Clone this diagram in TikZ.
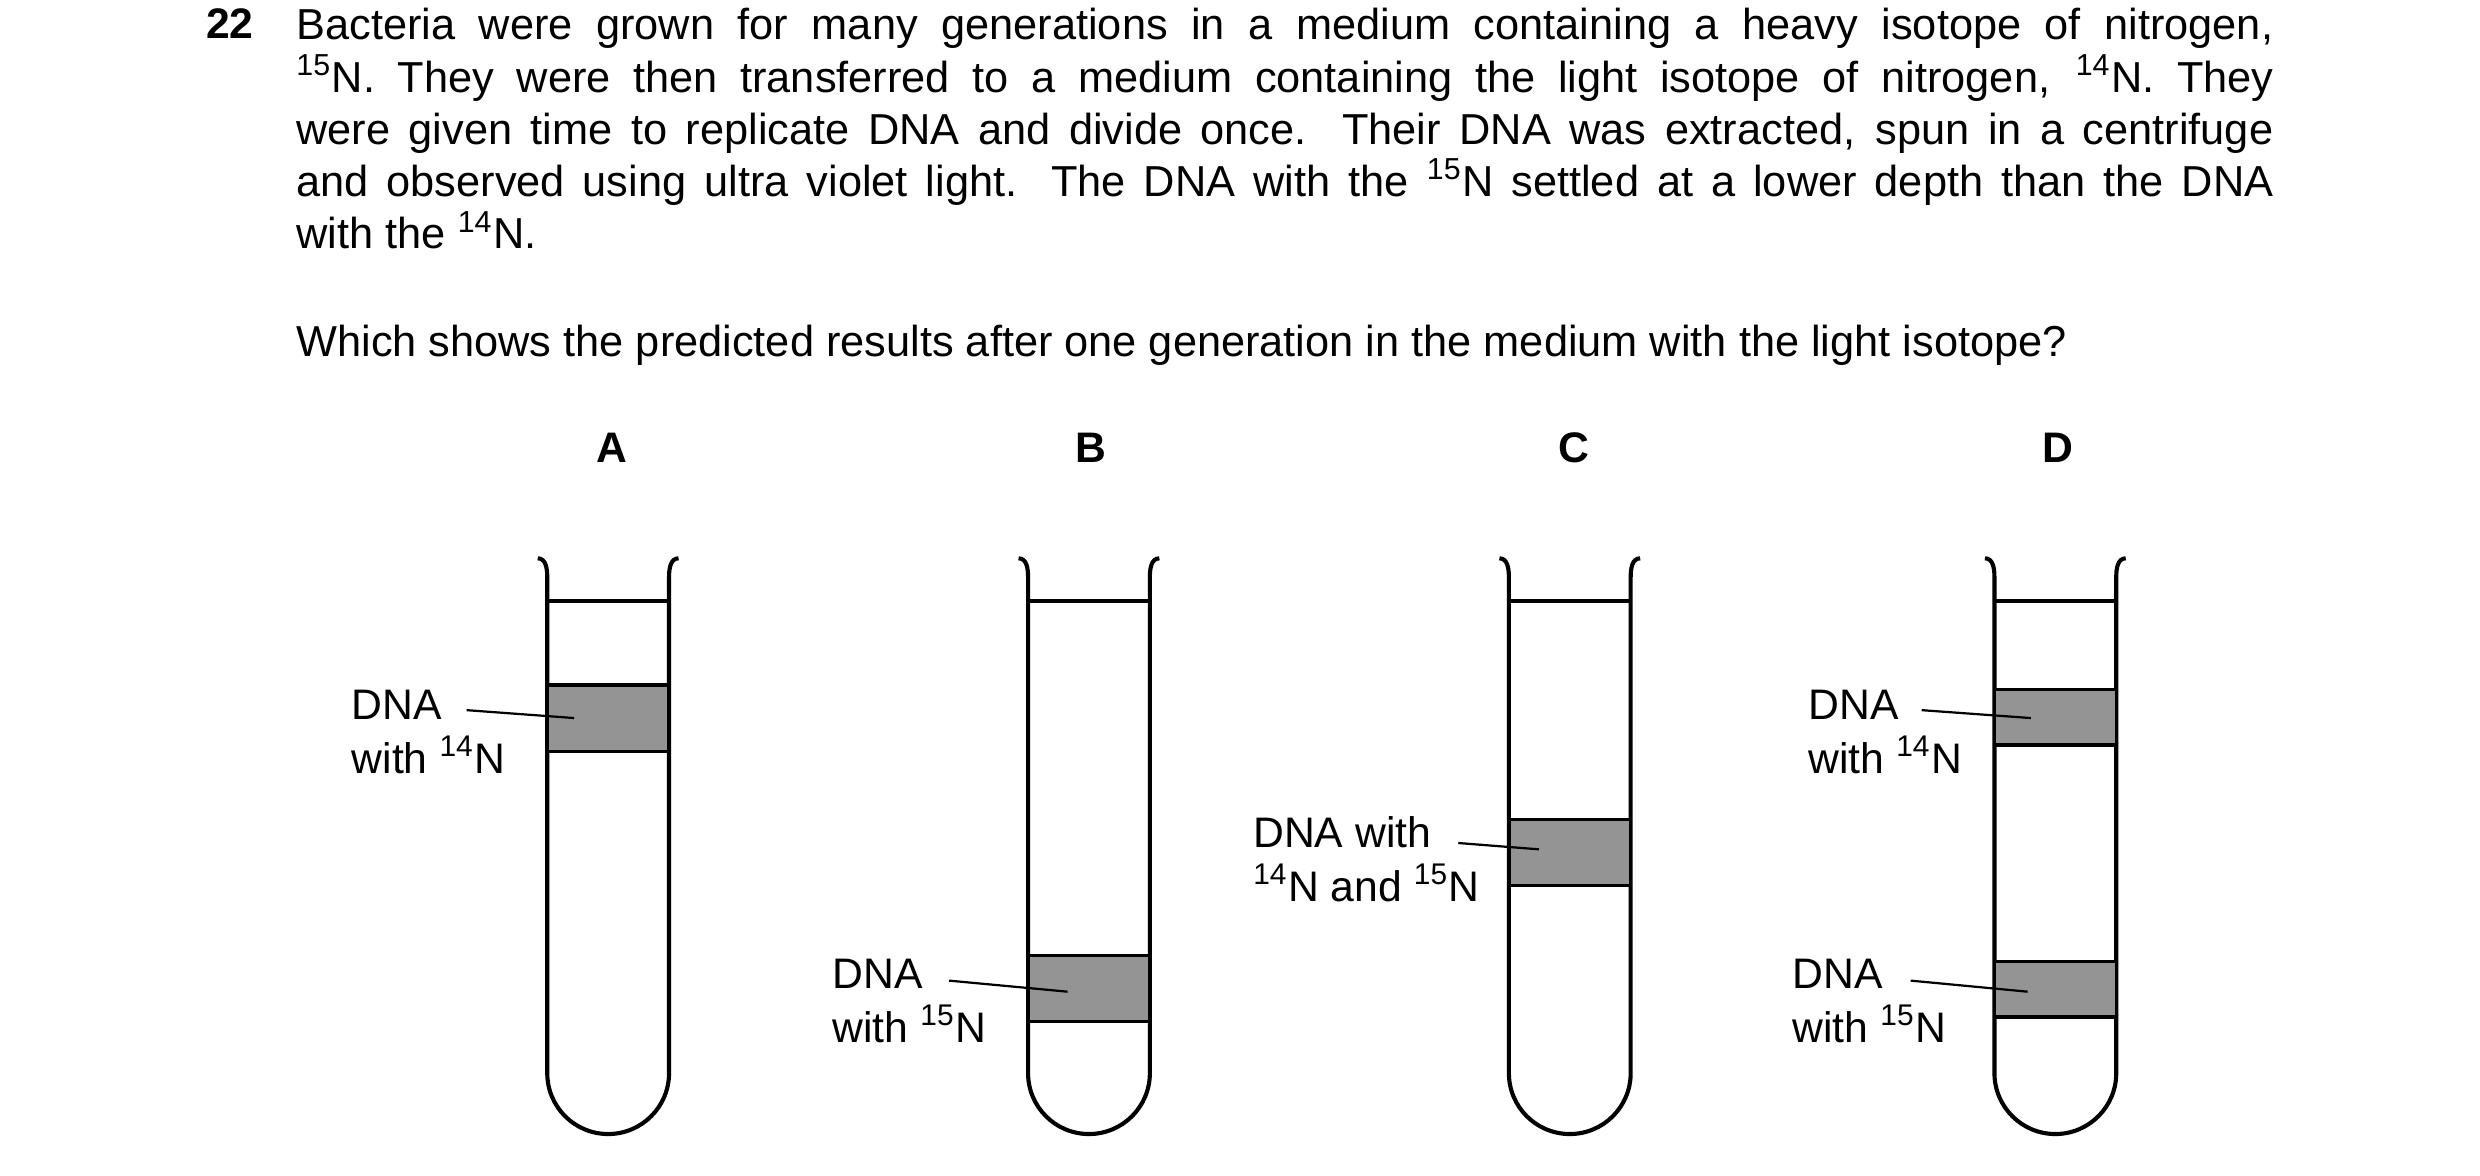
\documentclass[tikz,border=0pt]{standalone}
\usepackage{fontspec}
\setmainfont{Liberation Sans}
\begin{document}
\begin{tikzpicture}[x=0.5pt,y=-0.5pt,
  wall/.style={line width=1.3pt},
  band/.style={fill=black!42,line width=1.1pt},
  lbl/.style={font=\fontsize{13.5pt}{17pt}\selectfont,align=left,anchor=north west,inner sep=0},
  lead/.style={line width=0.7pt},
  letter/.style={font=\fontsize{13.5pt}{16pt}\selectfont\bfseries}]
\useasboundingbox (0,0) rectangle (1568,743);
\node[anchor=north west,inner sep=0,font=\fontsize{13.5pt}{16pt}\selectfont\bfseries] (num) at (130,5) {22};
\node[anchor=north west,inner sep=0,text width=625pt,align=justify,font=\fontsize{13.7pt}{16.5pt}\selectfont] (para) at (187,5) {Bacteria were grown for many generations in a medium containing a heavy isotope of nitrogen, \linebreak
\textsuperscript{15}N. They were then transferred to a medium containing the light isotope of nitrogen, \textsuperscript{14}N. They \linebreak
were given time to replicate DNA and divide once. Their DNA was extracted, spun in a centrifuge \linebreak
and observed using ultra violet light. The DNA with the \textsuperscript{15}N settled at a lower depth than the DNA \linebreak
with the \textsuperscript{14}N.\par};
\node[anchor=north west,inner sep=0,font=\fontsize{13.7pt}{16.5pt}\selectfont] (q) at (187,205) {Which shows the predicted results after one generation in the medium with the light isotope?};
\foreach \n/\x in {A/387,B/690,C/995,D/1301} \node[letter] (L\n) at (\x,283) {\n};
% tubes
\foreach \n/\l in {A/346,B/650,C/954,D/1261}{
  \draw[wall] (\l-6,353) to[out=0,in=90] (\l,365) -- (\l,678.5) arc(180:0:38.5) -- (\l+77,365) to[out=90,in=180] (\l+83,353);
  \coordinate (T\n) at (\l,380);
  \draw[wall] (\l,380) -- (\l+77,380);
}
\draw[band] (346,433) rectangle (423,475) node[pos=0.5] (bA) {};
\draw[band] (650,604) rectangle (727,646) node[pos=0.5] (bB) {};
\draw[band] (954,518) rectangle (1031,560) node[pos=0.5] (bC) {};
\draw[band] (1261,436) rectangle (1338,471) node[pos=0.5] (bD1) {};
\draw[band] (1261,608) rectangle (1338,643) node[pos=0.5] (bD2) {};
% labels
\node[lbl] (tA) at (222,436) {DNA\\with \textsuperscript{14}N};
\node[lbl] (tB) at (526,606) {DNA\\with \textsuperscript{15}N};
\node[lbl] (tC) at (792,516) {DNA with\\\textsuperscript{14}N and \textsuperscript{15}N};
\node[lbl] (tD1) at (1143,436) {DNA\\with \textsuperscript{14}N};
\node[lbl] (tD2) at (1133,606) {DNA\\with \textsuperscript{15}N};
\coordinate (sA) at (295,449); \coordinate (eA) at (363,454);
\coordinate (sB) at (600,620); \coordinate (eB) at (675,627);
\coordinate (sC) at (922,533); \coordinate (eC) at (973,537);
\coordinate (sD1) at (1215,449); \coordinate (eD1) at (1284,454);
\coordinate (sD2) at (1208,620); \coordinate (eD2) at (1282,627);
\foreach \k in {A,B,C,D1,D2} \draw[lead] (s\k) -- (e\k);
\end{tikzpicture}
\end{document}
